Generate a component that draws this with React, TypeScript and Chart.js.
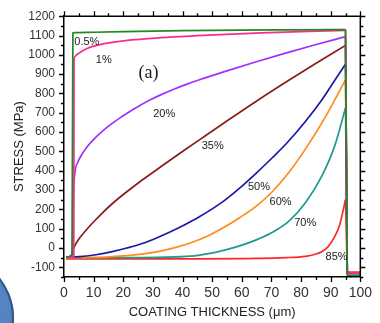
import React, { useEffect, useRef } from "react";
import { Chart, registerables } from "chart.js";

Chart.register(...registerables);

// ---- axis ranges / tick labels ----
const xMin = 0;
const xMax = 100;
const yMin = -150;
const yMax = 1200;
const xTickStep = 10;
const yTickStep = 100;
const xMinorStep = 5;
const yMinorStep = 50;

// ---- series (coating thickness µm -> stress MPa), rising part ----
const s05X = [0.7, 2.7, 3.0, 3.5, 10, 20, 40, 60, 80, 95];
const s05Y = [-47, -35, 1113, 1114.5, 1117, 1120, 1125, 1128, 1129.5, 1131];

const s1X = [0.7, 3.3, 3.41, 3.64, 4.3, 5.3, 7.28, 9.7, 13.58, 20.76, 32.78, 45.03, 66.56, 95];
const s1Y = [-49, -48, 977, 990, 1001, 1011, 1029, 1044, 1058, 1074, 1089, 1099, 1114, 1127];

const s20X = [0.7, 2.6, 2.85, 3.05, 3.21, 3.74, 4.64, 5.96, 7.95, 10.36, 12.91, 15.89, 18.54, 21.42, 25.17, 29.14, 32.78, 36.85, 41.06, 45.7, 54.97, 64.9, 74.8, 84.8, 95];
const s20Y = [-47, -45, -20, 142, 280, 397, 443, 483, 527, 568, 604, 641, 670, 699, 734, 767, 794, 821, 846, 871, 917, 964, 1009, 1052, 1094];

const s35X = [0.7, 2.2, 2.6, 3.0, 3.6, 4.5, 5.96, 7.95, 10.36, 12.91, 15.89, 18.54, 21.42, 25.17, 29.14, 32.78, 36.85, 41.06, 45.7, 53.87, 64.9, 74.8, 84.8, 95];
const s35Y = [-47, -43, -35, -12, 10, 35, 65, 101, 141, 181, 224, 259, 294, 338, 382, 422, 466, 511, 560, 646, 760, 858, 954, 1049];

const s50X = [0.7, 5.3, 10.26, 15.89, 21.19, 26.92, 31.79, 35.76, 40.4, 45.7, 53.87, 59.27, 64.9, 70.2, 74.83, 81.46, 86.99, 91.39, 95];
const s50Y = [-47, -45, -36, -20, 0, 26, 56, 83, 118, 162, 243, 310, 388, 466, 537, 655, 766, 868, 952];

const s60X = [0.7, 11.92, 20.76, 26.82, 32.12, 38.41, 42.81, 48.34, 53.87, 59.27, 64.9, 70.2, 75.93, 81.46, 88.08, 95];
const s60Y = [-50, -49, -40, -30, -17, 6, 27, 61, 106, 157, 217, 290, 392, 512, 675, 870];

const s70X = [0.7, 20, 31.79, 42.81, 48.34, 53.87, 59.27, 64.9, 70.2, 75.93, 81.46, 86.99, 91.39, 95];
const s70Y = [-50, -50, -48, -42, -30, -12, 11, 42, 80, 139, 234, 372, 530, 725];

const s85X = [0.7, 45, 64.9, 74.83, 81.46, 84.77, 86.99, 89.07, 91.39, 93.05, 95];
const s85Y = [-56, -56, -54, -50, -43, -32, -19, 6, 60, 121, 250];

// ---- unloading drop at the coating edge ----
const tailX = [95, 95.6, 100];
const tailBottom = [-140, -129, -129, -129, -129, -129, -129, -124];

const seriesNames = ["0.5%", "1%", "20%", "35%", "50%", "60%", "70%", "85%"];
const seriesX = [s05X, s1X, s20X, s35X, s50X, s60X, s70X, s85X];
const seriesY = [s05Y, s1Y, s20Y, s35Y, s50Y, s60Y, s70Y, s85Y];
const seriesColors = ["#1f8a1f", "#ff2a8e", "#a030ff", "#8b1c1c", "#1a1aa8", "#ff8c1a", "#1f9a8e", "#ff2626"];

// ---- in-plot annotations (data coordinates) ----
const noteTexts = ["0.5%", "1%", "20%", "35%", "50%", "60%", "70%", "85%"];
const noteX = [7.7, 13.4, 33.8, 50.2, 65.8, 73.1, 81.4, 92];
const noteY = [1065, 973, 695, 526, 318, 236, 129, -45];
const panelText = "(a)";
const panelX = 28.5;
const panelY = 905;

const SANS = "'Liberation Sans', Arial, sans-serif";
const SERIF = "'Liberation Serif', 'Times New Roman', serif";

const framePlugin = {
  id: "frame",
  afterDraw(chart: any) {
    const { ctx, chartArea } = chart;
    const { left, right, top, bottom } = chartArea;
    const xs = chart.scales.x;
    const ys = chart.scales.y;
    ctx.save();
    ctx.strokeStyle = "#000";
    ctx.lineWidth = 1.5;
    ctx.beginPath();
    ctx.moveTo(left, top);
    ctx.lineTo(right, top);
    ctx.lineTo(right, bottom);
    ctx.stroke();
    ctx.lineWidth = 1.3;
    ctx.beginPath();
    for (let v = yMin; v <= yMax + 0.001; v += yMinorStep) {
      const py = Math.round(ys.getPixelForValue(v)) + 0.5;
      const len = v % yTickStep === 0 ? 5 : 3;
      ctx.moveTo(left - len, py);
      ctx.lineTo(left, py);
      ctx.moveTo(right, py);
      ctx.lineTo(right + len, py);
    }
    for (let v = xMin; v <= xMax + 0.001; v += xMinorStep) {
      const px = Math.round(xs.getPixelForValue(v)) + 0.5;
      const len = v % xTickStep === 0 ? 5 : 3;
      ctx.moveTo(px, bottom);
      ctx.lineTo(px, bottom + len);
      ctx.moveTo(px, top);
      ctx.lineTo(px, top - len);
    }
    ctx.stroke();

    ctx.fillStyle = "#1a1a1a";
    ctx.textAlign = "center";
    ctx.textBaseline = "middle";
    ctx.font = `11px ${SANS}`;
    noteTexts.forEach((t, i) => {
      ctx.fillText(t, xs.getPixelForValue(noteX[i]), ys.getPixelForValue(noteY[i]));
    });
    ctx.font = `18px ${SERIF}`;
    ctx.fillText(panelText, xs.getPixelForValue(panelX), ys.getPixelForValue(panelY));
    ctx.restore();
  },
};

export default function App() {
  const ref = useRef<HTMLCanvasElement | null>(null);
  useEffect(() => {
    document.body.style.margin = "0";
    if (!ref.current) return;
    const datasets: any[] = [];
    seriesNames.forEach((name, i) => {
      const xs = seriesX[i];
      const ys = seriesY[i];
      const peak = ys[ys.length - 1];
      datasets.push({
        label: name,
        data: xs.map((x, j) => ({ x, y: ys[j] })),
        borderColor: seriesColors[i],
        borderWidth: 1.7,
        pointRadius: 0,
        fill: false,
        cubicInterpolationMode: "monotone",
      });
      datasets.push({
        label: name + " drop",
        data: tailX.map((x, j) => ({ x, y: j === 0 ? peak : tailBottom[i] })),
        borderColor: seriesColors[i],
        borderWidth: 1.7,
        pointRadius: 0,
        fill: false,
        tension: 0,
      });
    });
    const chart = new Chart(ref.current, {
      type: "line",
      data: { datasets },
      options: {
        animation: false,
        responsive: false,
        maintainAspectRatio: false,
        layout: { padding: { top: 13, right: 14, left: 0, bottom: 0 } },
        plugins: { legend: { display: false }, tooltip: { enabled: false } },
        scales: {
          x: {
            type: "linear",
            min: xMin,
            max: xMax,
            ticks: {
              stepSize: xTickStep,
              padding: 8,
              color: "#333",
              font: { family: SANS, size: 14 },
              maxRotation: 0,
              callback: (v: any) => String(v),
            },
            grid: { display: false, drawTicks: false },
            border: { display: true, color: "#000", width: 1.5 },
            title: {
              display: true,
              text: "COATING THICKNESS (μm)",
              color: "#222",
              font: { family: SANS, size: 13 },
              padding: { top: 0, bottom: 3 },
            },
            afterFit: (s: any) => {
              s.height = 46;
            },
          },
          y: {
            type: "linear",
            min: yMin,
            max: yMax,
            ticks: {
              stepSize: yTickStep,
              includeBounds: false,
              padding: 9,
              color: "#333",
              font: { family: SANS, size: 12 },
              callback: (v: any) => String(v),
            },
            grid: { display: false, drawTicks: false },
            border: { display: true, color: "#000", width: 1.5 },
            title: {
              display: true,
              text: "STRESS (MPa)",
              color: "#222",
              font: { family: SANS, size: 13 },
              padding: { top: 12, bottom: 0 },
            },
            afterFit: (s: any) => {
              s.width = 64;
            },
          },
        },
      },
      plugins: [framePlugin],
    });
    return () => chart.destroy();
  }, []);

  return (
    <div style={{ position: "relative", width: 380, height: 323, overflow: "hidden", background: "#fff" }}>
      <div
        style={{
          position: "absolute",
          left: -114,
          top: 254,
          width: 128,
          height: 128,
          borderRadius: "50%",
          background: "radial-gradient(circle at 70% 40%, #5b8ccc, #3f6ea8)",
          boxShadow: "inset 0 0 0 2px #2f5684",
        }}
      />
      <canvas ref={ref} width={380} height={323} style={{ position: "relative", display: "block" }} />
    </div>
  );
}
